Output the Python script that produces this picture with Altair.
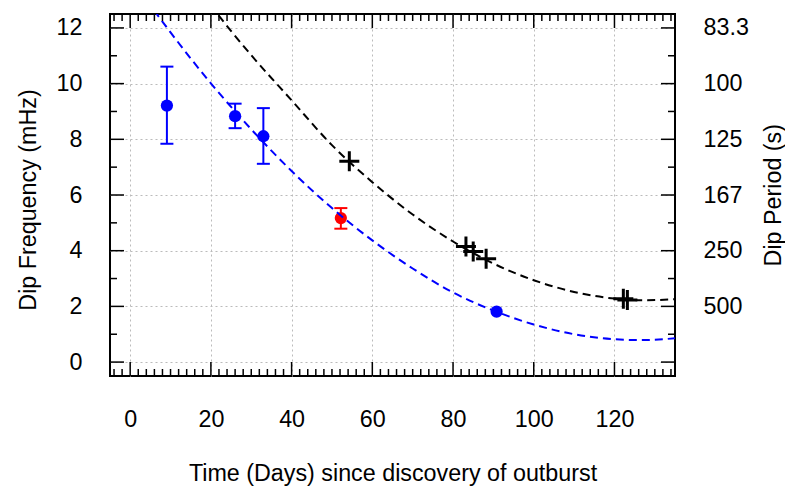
import altair as alt
import pandas as pd

# ---- data ----
blue_day = [9.1, 26.0, 33.0, 90.8]
blue_freq = [9.21, 8.83, 8.11, 1.81]
blue_low = [7.84, 8.40, 7.12, None]
blue_high = [10.61, 9.28, 9.12, None]

red_day = [52.2]
red_freq = [5.17]
red_low = [4.79]
red_high = [5.53]

cross_day = [54.3, 83.2, 85.0, 88.2, 122.2, 123.2]
cross_freq = [7.21, 4.15, 3.97, 3.71, 2.27, 2.23]

blue_fit_day = [4, 10, 20, 30, 40, 50, 60, 70, 80, 90, 100, 110, 120, 126, 130, 135]
blue_fit_freq = [13.01, 11.84, 10.01, 8.36, 6.86, 5.53, 4.37, 3.36, 2.5, 1.85, 1.35, 1.0, 0.82, 0.79, 0.80, 0.86]

black_fit_day = [18, 20, 30, 40, 50, 60, 70, 80, 90, 100, 110, 120, 128, 135]
black_fit_freq = [13.2, 12.81, 11.02, 9.4, 7.79, 6.46, 5.30, 4.33, 3.54, 2.94, 2.52, 2.28, 2.22, 2.26]

x_tick_values = [0, 20, 40, 60, 80, 100, 120]
y_tick_values = [0, 2, 4, 6, 8, 10, 12]
period_values = [12, 10, 8, 6, 4, 2]
period_labels = ["83.3", "100", "125", "167", "250", "500"]

x_minor = [v for v in range(-4, 135, 2) if v not in x_tick_values]
y_minor = [1, 3, 5, 7, 9, 11]

W, H = 565, 362
MAJ, MIN = 14, 7
FS = 23.3

xs = alt.Scale(domain=[-5, 135], nice=False, zero=False)
ys = alt.Scale(domain=[-0.5, 12.5], nice=False, zero=False)

x_axis = alt.Axis(
    title="Time (Days) since discovery of outburst",
    values=x_tick_values, ticks=False, tickSize=0, domain=False,
    grid=True, gridColor="#bbbbbb", gridDash=[2, 3], gridWidth=1,
    labelFontSize=FS, labelColor="black", labelBaseline="alphabetic", labelPadding=50,
    titleFontSize=FS, titleFontWeight="normal", titleColor="black",
    titleBaseline="alphabetic", titleY=104,
)
y_axis = alt.Axis(
    title="Dip Frequency (mHz)",
    values=y_tick_values, ticks=False, tickSize=0, domain=False,
    grid=True, gridColor="#bbbbbb", gridDash=[2, 3], gridWidth=1,
    labelFontSize=FS, labelColor="black", labelPadding=28,
    titleFontSize=FS, titleFontWeight="normal", titleColor="black",
    titleAngle=270, titleBaseline="middle", titleX=-81.5, titleY=185.5,
)
label_expr = " : ".join(f"datum.value == {v} ? '{l}'" for v, l in zip(period_values, period_labels)) + " : ''"
y_axis_right = alt.Axis(
    title="Dip Period (s)", orient="right",
    values=period_values, labelExpr=label_expr,
    ticks=False, tickSize=0, domain=False, grid=False,
    labelFontSize=FS, labelColor="black", labelPadding=28, labelAlign="left",
    titleFontSize=FS, titleFontWeight="normal", titleColor="black",
    titleAngle=270, titleBaseline="middle", titleX=98.5, titleY=180.7,
)


def X(f):
    return alt.X(f"{f}:Q", scale=xs, axis=x_axis)


def Y(f):
    return alt.Y(f"{f}:Q", scale=ys, axis=y_axis)


blue = pd.DataFrame({"day": blue_day, "freq": blue_freq, "low": blue_low, "high": blue_high})
blue_err = blue.dropna()
red = pd.DataFrame({"day": red_day, "freq": red_freq, "low": red_low, "high": red_high})
cross = pd.DataFrame({"day": cross_day, "freq": cross_freq})
bfit = pd.DataFrame({"day": blue_fit_day, "freq": blue_fit_freq})
kfit = pd.DataFrame({"day": black_fit_day, "freq": black_fit_freq})


def errbars(df, color):
    bars = alt.Chart(df).mark_rule(color=color, strokeWidth=2, opacity=1).encode(
        x=X("day"), y=Y("low"), y2="high")
    cap_lo = alt.Chart(df).mark_tick(color=color, orient="horizontal", size=13, thickness=2, opacity=1).encode(
        x=X("day"), y=Y("low"))
    cap_hi = alt.Chart(df).mark_tick(color=color, orient="horizontal", size=13, thickness=2, opacity=1).encode(
        x=X("day"), y=Y("high"))
    return [bars, cap_lo, cap_hi]


layers = []
layers += errbars(blue_err, "#0000ff")
layers += errbars(red, "#ff0000")
layers.append(alt.Chart(blue).mark_circle(size=150, opacity=1, color="#0000ff").encode(x=X("day"), y=Y("freq")))
layers.append(alt.Chart(red).mark_circle(size=150, opacity=1, color="#ff0000").encode(x=X("day"), y=Y("freq")))
layers.append(alt.Chart(cross).mark_point(shape="M-1,0H1M0,-1V1", size=400, strokeWidth=3, filled=False,
                                          opacity=1, color="black").encode(x=X("day"), y=Y("freq")))
layers.append(alt.Chart(bfit).mark_line(color="#0000ff", strokeWidth=2, strokeDash=[8, 5], clip=True,
                                        interpolate="monotone").encode(x=X("day"), y=Y("freq")))
layers.append(alt.Chart(kfit).mark_line(color="black", strokeWidth=2, strokeDash=[8, 5], clip=True,
                                        interpolate="monotone").encode(x=X("day"), y=Y("freq")))

xmaj = pd.DataFrame({"t": x_tick_values})
xmin = pd.DataFrame({"t": x_minor})
ymaj = pd.DataFrame({"t": y_tick_values})
ymin = pd.DataFrame({"t": y_minor})

tick = dict(color="black", strokeWidth=1.5)
for df, L in ((xmaj, MAJ), (xmin, MIN)):
    layers.append(alt.Chart(df).mark_rule(**tick).encode(x=X("t"), y=alt.value(H), y2=alt.value(H - L)))
    layers.append(alt.Chart(df).mark_rule(**tick).encode(x=X("t"), y=alt.value(0), y2=alt.value(L)))
for df, L in ((ymaj, MAJ), (ymin, MIN)):
    layers.append(alt.Chart(df).mark_rule(**tick).encode(y=Y("t"), x=alt.value(0), x2=alt.value(L)))

main = alt.layer(*layers)

right_layers = []
for df, L in ((ymaj, MAJ), (ymin, MIN)):
    right_layers.append(alt.Chart(df).mark_rule(**tick).encode(
        y=alt.Y("t:Q", scale=ys, axis=y_axis_right), x=alt.value(W), x2=alt.value(W - L)))
right = alt.layer(*right_layers)

chart = alt.layer(main, right).resolve_scale(y="independent").properties(
    width=W, height=H,
    padding={"left": 102, "top": 6, "right": 110, "bottom": 110},
    autosize=alt.AutoSizeParams(type="none"),
).configure(font="Liberation Sans").configure_view(stroke="black", strokeWidth=2)

chart.save("out.html", embed_options={"renderer": "svg", "actions": False})
